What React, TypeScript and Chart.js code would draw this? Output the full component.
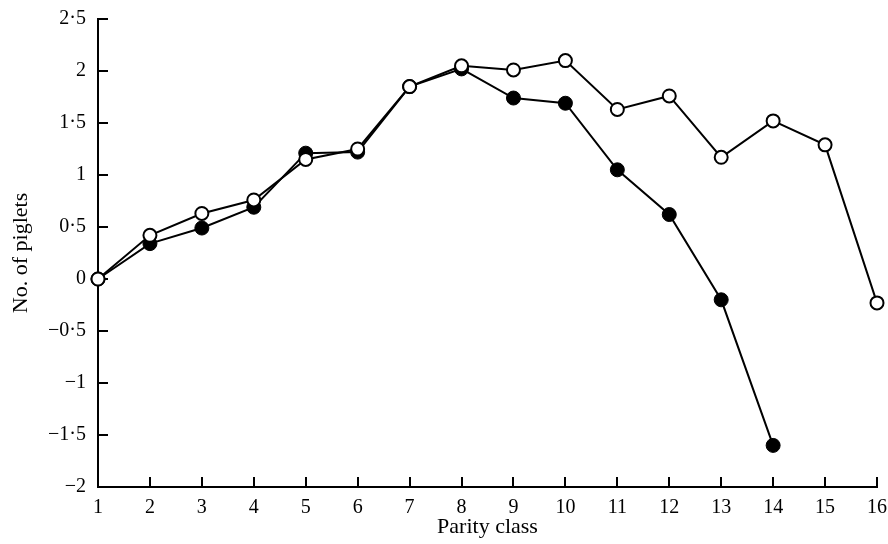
import React, { useEffect, useRef } from "react";
import { Chart, registerables } from "chart.js";

Chart.register(...registerables);

const parityClasses = [1, 2, 3, 4, 5, 6, 7, 8, 9, 10, 11, 12, 13, 14, 15, 16];
const filledSeries = [0, 0.34, 0.49, 0.69, 1.21, 1.22, 1.85, 2.02, 1.74, 1.69, 1.05, 0.62, -0.2, -1.6];
const openSeries = [0, 0.42, 0.63, 0.76, 1.15, 1.25, 1.85, 2.05, 2.01, 2.1, 1.63, 1.76, 1.17, 1.52, 1.29, -0.23];
const yTickValues = [-2, -1.5, -1, -0.5, 0, 0.5, 1, 1.5, 2, 2.5];
const yTickLabels = ["−2", "−1·5", "−1", "−0·5", "0", "0·5", "1", "1·5", "2", "2·5"];
const xTitle = "Parity class";
const yTitle = "No. of piglets";

const FONT = "'Liberation Serif', 'DejaVu Serif', serif";

const inwardTicks = {
  id: "inwardTicks",
  beforeDatasetsDraw(chart: any) {
    const { ctx, scales, chartArea } = chart;
    const xs = scales.x;
    const ys = scales.y;
    ctx.save();
    ctx.strokeStyle = "#000";
    ctx.lineWidth = 2;
    ctx.beginPath();
    parityClasses.forEach((v) => {
      const px = Math.round(xs.getPixelForValue(v));
      ctx.moveTo(px, chartArea.bottom);
      ctx.lineTo(px, chartArea.bottom - 10);
    });
    yTickValues.forEach((v) => {
      const py = Math.round(ys.getPixelForValue(v));
      ctx.moveTo(chartArea.left, py);
      ctx.lineTo(chartArea.left + 10, py);
    });
    ctx.stroke();
    ctx.restore();
  },
};

export default function App() {
  const ref = useRef<HTMLCanvasElement | null>(null);
  useEffect(() => {
    if (!ref.current) return;
    const chart = new Chart(ref.current, {
      type: "line",
      data: {
        datasets: [
          {
            label: "open",
            data: openSeries.map((y, i) => ({ x: parityClasses[i], y })),
            borderColor: "#000",
            borderWidth: 2,
            backgroundColor: "#fff",
            pointBackgroundColor: "#fff",
            pointBorderColor: "#000",
            pointBorderWidth: 2,
            pointRadius: 6.5,
            tension: 0,
            clip: false as any,
          },
          {
            label: "filled",
            data: filledSeries.map((y, i) => ({ x: parityClasses[i], y })),
            borderColor: "#000",
            borderWidth: 2,
            backgroundColor: "#000",
            pointBackgroundColor: "#000",
            pointBorderColor: "#000",
            pointBorderWidth: 1,
            pointRadius: 7,
            tension: 0,
            clip: false as any,
          },
        ],
      },
      options: {
        animation: false,
        responsive: false,
        maintainAspectRatio: false,
        layout: { padding: { left: 0, top: 19, right: 11, bottom: 0 } },
        plugins: { legend: { display: false }, tooltip: { enabled: false } },
        scales: {
          x: {
            type: "linear",
            min: 1,
            max: 16,
            afterFit: (s: any) => {
              s.height = 57;
              s.paddingLeft = 0;
              s.paddingRight = 0;
            },
            afterBuildTicks: (s: any) => {
              s.ticks = parityClasses.map((v) => ({ value: v }));
            },
            ticks: {
              color: "#000",
              font: { family: FONT, size: 20 },
              padding: 9,
              maxRotation: 0,
              callback: (v: any) => String(v),
            },
            grid: { display: true, drawOnChartArea: false, drawTicks: false },
            border: { display: true, color: "#000", width: 2 },
            title: {
              display: true,
              text: xTitle,
              color: "#000",
              font: { family: FONT, size: 22 },
              padding: { top: 0, bottom: 4 },
            },
          },
          y: {
            type: "linear",
            min: -2,
            max: 2.5,
            afterFit: (s: any) => {
              s.width = 98;
              s.paddingTop = 0;
              s.paddingBottom = 0;
            },
            afterBuildTicks: (s: any) => {
              s.ticks = yTickValues.map((v) => ({ value: v }));
            },
            ticks: {
              color: "#000",
              font: { family: FONT, size: 20 },
              padding: 12,
              callback: (v: any) => {
                const i = yTickValues.indexOf(Number(v));
                return i >= 0 ? yTickLabels[i] : "";
              },
            },
            grid: { display: true, drawOnChartArea: false, drawTicks: false },
            border: { display: true, color: "#000", width: 2 },
            title: {
              display: true,
              text: yTitle,
              color: "#000",
              font: { family: FONT, size: 22 },
              padding: { top: 8, bottom: 0 },
            },
          },
        },
      },
      plugins: [inwardTicks],
    });
    return () => chart.destroy();
  }, []);
  return (
    <div style={{ position: "fixed", left: 0, top: 0, width: 888, height: 544, background: "#fff" }}>
      <canvas ref={ref} width={888} height={544} style={{ width: 888, height: 544, display: "block" }} />
    </div>
  );
}
